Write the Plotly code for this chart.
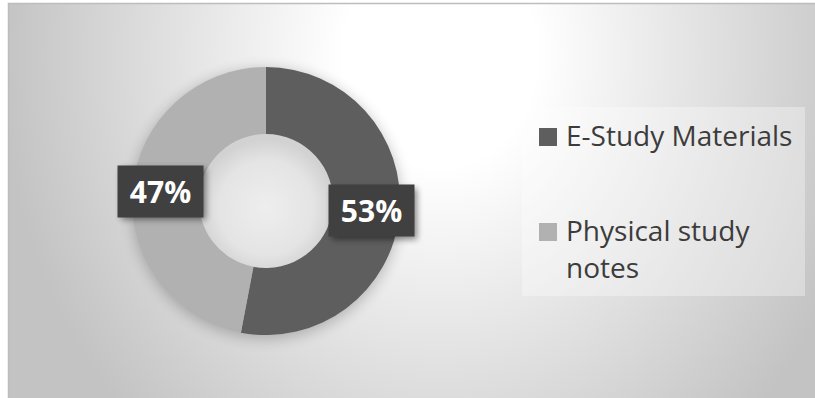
import base64
import math
import textwrap

import plotly.graph_objects as go

# ---- data -------------------------------------------------------------
labels = ["E-Study Materials", "Physical study notes"]
values = [53, 47]
slice_colors = ["#5e5e5e", "#b1b1b1"]

# ---- geometry (pixels) ------------------------------------------------
W, H = 815, 398
CX, CY, R = 266, 201, 134          # donut centre / outer radius
HOLE = 0.5
LABEL_R = 106                       # radius at which the value boxes sit
BOX_W, BOX_H = 85, 51

LEG_X0, LEG_Y0, LEG_X1, LEG_Y1 = 522, 107, 805, 296
LEG_MARK_X, LEG_MARK = 539, 18
LEG_TEXT_X = 564
LEG_FIRST_TOP, LEG_ITEM_GAP, LEG_LINE_GAP = 128, 95, 37
TEXT_COLOR = "#3c3c3c"
FONT = "Open Sans"


def px(x):
    return x / W


def py(y):
    return 1 - y / H


def svg_uri(body):
    svg = (f'<svg xmlns="http://www.w3.org/2000/svg" width="{W}" height="{H}" '
           f'viewBox="0 0 {W} {H}" preserveAspectRatio="none">{body}</svg>')
    return "data:image/svg+xml;base64," + base64.b64encode(svg.encode()).decode()


# slice mid-angles (clockwise from 12 o'clock) -> value box centres
total = sum(values)
box_centres = []
cum = 0
for v in values:
    mid = (cum + v / 2) / total * 2 * math.pi
    box_centres.append((CX + LABEL_R * math.sin(mid), CY - LABEL_R * math.cos(mid)))
    cum += v

# backdrop: soft radial fill, frame edge, drop shadow of the ring, shaded hole
backdrop = f"""
<defs>
  <radialGradient id="bg" gradientUnits="userSpaceOnUse" cx="0" cy="0" r="1"
      gradientTransform="translate(440 55) scale(440 510)">
    <stop offset="0" stop-color="#ffffff"/>
    <stop offset="0.22" stop-color="#ffffff"/>
    <stop offset="1" stop-color="#c3c3c3"/>
  </radialGradient>
  <radialGradient id="hole" cx="0.5" cy="0.55" r="0.5">
    <stop offset="0" stop-color="#eeeeee"/>
    <stop offset="0.7" stop-color="#e4e4e4"/>
    <stop offset="1" stop-color="#d2d2d2"/>
  </radialGradient>
  <filter id="soft" x="-50%" y="-50%" width="200%" height="200%">
    <feGaussianBlur stdDeviation="7"/>
  </filter>
</defs>
<rect x="8" y="3" width="{W - 8}" height="{H - 3}" fill="url(#bg)"/>
<circle cx="{CX}" cy="{CY + 3}" r="{R + 1}" fill="#000" opacity="0.22" filter="url(#soft)"/>
<circle cx="{CX}" cy="{CY}" r="{R * HOLE + 1}" fill="url(#hole)"/>
<path d="M8.5 {H} V3.5 H{W}" stroke="#bdbdbd" stroke-width="1.5" fill="none"/>
"""

# shadows cast by the value boxes
shadow_rects = "".join(
    f'<rect x="{bx - BOX_W / 2 + 3}" y="{by - BOX_H / 2 + 3}" width="{BOX_W}" '
    f'height="{BOX_H}" fill="#000" opacity="0.45" filter="url(#bs)"/>'
    for bx, by in box_centres
)
box_shadows = (
    '<defs><filter id="bs" x="-50%" y="-50%" width="200%" height="200%">'
    '<feGaussianBlur stdDeviation="3"/></filter></defs>' + shadow_rects
)

fig = go.Figure(
    go.Pie(
        labels=labels,
        values=values,
        hole=HOLE,
        sort=False,
        direction="clockwise",
        rotation=0,
        marker=dict(colors=slice_colors, line=dict(width=0)),
        textinfo="none",
        hoverinfo="label+percent",
        showlegend=False,
        domain=dict(x=[px(CX - R), px(CX + R)], y=[py(CY + R), py(CY - R)]),
    )
)

img_common = dict(xref="paper", yref="paper", x=0, y=1, sizex=1, sizey=1,
                  xanchor="left", yanchor="top", sizing="stretch")
fig.add_layout_image(source=svg_uri(backdrop), layer="below", **img_common)
fig.add_layout_image(source=svg_uri(box_shadows), layer="above", **img_common)

# value boxes
for (bx, by), v in zip(box_centres, values):
    pct = round(v / total * 100)
    fig.add_annotation(
        x=px(bx), y=py(by), xref="paper", yref="paper",
        xanchor="center", yanchor="middle",
        text=f"<b>{pct}%</b>", showarrow=False,
        width=BOX_W, height=BOX_H, bgcolor="#404040", borderpad=0,
        align="center", valign="middle",
        font=dict(family=FONT, size=30, color="#ffffff"),
    )

# legend panel
fig.add_shape(type="rect", xref="paper", yref="paper",
              x0=px(LEG_X0), x1=px(LEG_X1), y0=py(LEG_Y1), y1=py(LEG_Y0),
              fillcolor="rgba(255,255,255,0.33)", line=dict(width=0), layer="below")

for i, (lab, col) in enumerate(zip(labels, slice_colors)):
    top = LEG_FIRST_TOP + i * LEG_ITEM_GAP
    fig.add_shape(type="rect", xref="paper", yref="paper",
                  x0=px(LEG_MARK_X), x1=px(LEG_MARK_X + LEG_MARK),
                  y0=py(top + LEG_MARK), y1=py(top),
                  fillcolor=col, line=dict(width=0))
    for j, line in enumerate(textwrap.wrap(lab, 17)):
        baseline = top + LEG_MARK - 1 + j * LEG_LINE_GAP
        fig.add_annotation(
            x=px(LEG_TEXT_X), y=py(baseline - 10), xref="paper", yref="paper",
            text=line, showarrow=False, xanchor="left", yanchor="middle",
            font=dict(family=FONT, size=28, color=TEXT_COLOR),
        )

fig.update_layout(
    width=W, height=H,
    margin=dict(l=0, r=0, t=0, b=0),
    paper_bgcolor="#ffffff",
    plot_bgcolor="rgba(0,0,0,0)",
)

fig.write_html("out.html")
